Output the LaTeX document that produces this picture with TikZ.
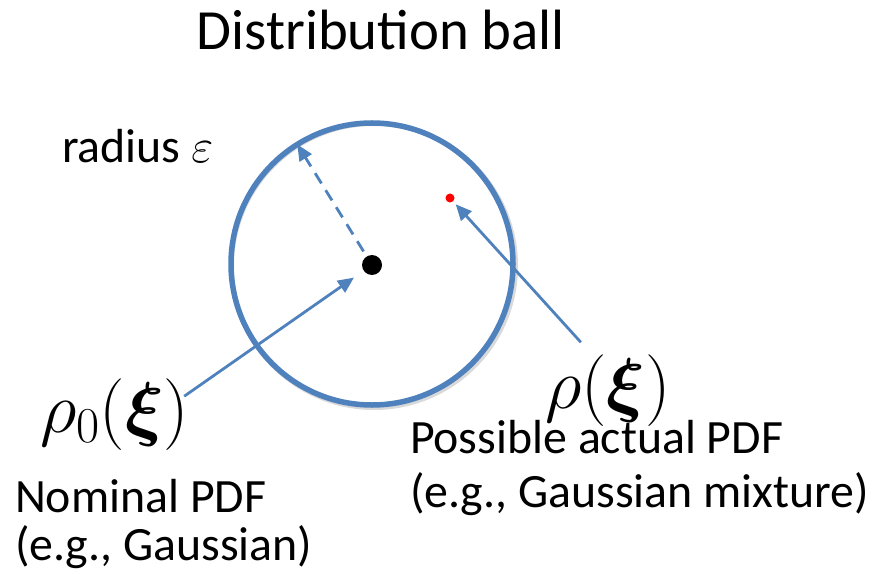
\RequirePackage{fix-cm}
\documentclass[tikz,border=0pt]{standalone}
\usepackage{amsmath}
\usepackage{fontspec}
\setmainfont{Carlito}
\usepackage{tikz}
\usetikzlibrary{arrows.meta, positioning}
\definecolor{ballblue}{HTML}{4F81BD}
\definecolor{pdfred}{HTML}{FF0000}

\begin{document}
\begin{tikzpicture}[x=1bp, y=-1bp,
    every node/.style={font=\fontsize{48}{48}\selectfont, inner sep=0pt, outer sep=0pt},
    heading/.style={font=\fontsize{57}{64}\selectfont, anchor=base},
    ball/.style={circle, draw=ballblue, line width=5.5bp, minimum size=282bp},
    shade/.style={circle, draw=black!15, line width=4bp, minimum size=284bp},
    dot/.style={circle, fill=black, minimum size=20bp},
    reddot/.style={circle, fill=pdfred, minimum size=9bp},
    mlab/.style={font=\fontsize{72}{80}\selectfont, anchor=base west},
    tlab/.style={anchor=base west, align=left},
    link/.style={-{Triangle[length=16bp, width=14bp]}, line width=2.8bp, color=ballblue}
]
\useasboundingbox (0,0) rectangle (875,575);

% Title
\node[heading] (title) at (381,50) {Distribution ball};

% The ball and its centre
\node[shade] (ballshade) at (374,266) {};
\node[ball] (ball) at (372,264) {};
\node[dot] (nominal) at (372,265) {};
\node[reddot] (actual) at (450,198) {};

% Labels
\node[tlab] (radlab) at (62,163) {radius $\varepsilon$};
\node[mlab] (rho0) at (40,432) {$\rho_0(\boldsymbol{\xi})$};
\node[mlab] (rho) at (545,408) {$\rho(\boldsymbol{\xi})$};
\node[tlab] (nomtxt) at (15,560) {Nominal PDF\\(e.g., Gaussian)};
\node[tlab] (acttxt) at (410,507) {Possible actual PDF\\[6bp](e.g., Gaussian mixture)};

% Arrows
\draw[link, dashed, dash pattern=on 12bp off 8bp, shorten <=6bp] (nominal) -- (ball.122);
\draw[link, shorten >=12bp] ([shift={(-5bp,-18bp)}]rho0.north east) -- (nominal);
\draw[link, shorten >=4bp] ([shift={(-27bp,12bp)}]rho.north) -- (actual);
\end{tikzpicture}
\end{document}
